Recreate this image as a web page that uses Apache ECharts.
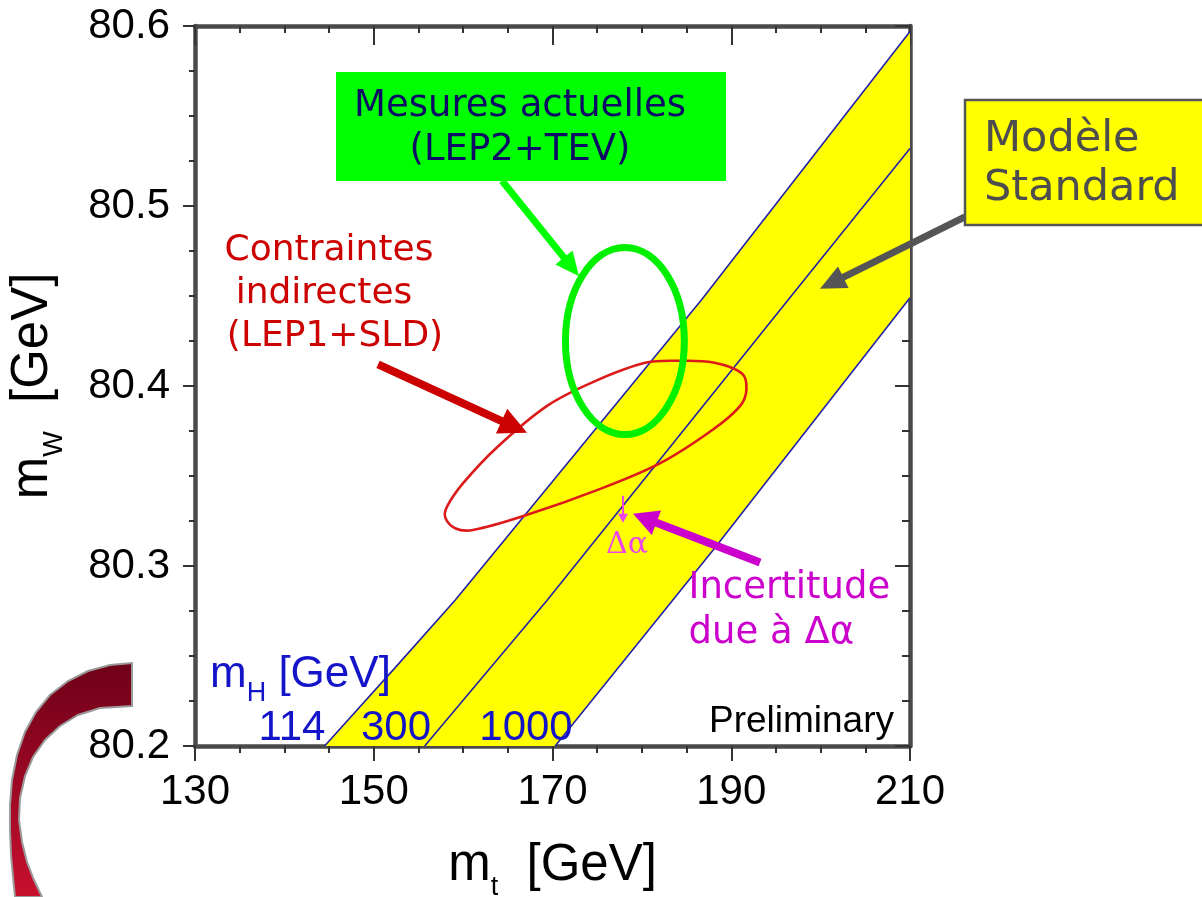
<!DOCTYPE html>
<html><head><meta charset="utf-8">
<script src="https://cdn.jsdelivr.net/npm/echarts@6/dist/echarts.min.js"></script>
<style>html,body{margin:0;padding:0;background:#fff}#c{width:1202px;height:897px}</style>
</head><body><div id="c"></div>
<script>
// ---------- data ----------
const xTickValues = [130, 150, 170, 190, 210];
const xTickLabels = ['130', '150', '170', '190', '210'];
const yTickValues = [80.2, 80.3, 80.4, 80.5, 80.6];
const yTickLabels = ['80.2', '80.3', '80.4', '80.5', '80.6'];

// Standard Model lines for m_H = 114, 300, 1000 GeV
const higgsLabels = ['114', '300', '1000'];
const mt114  = [144.5, 152.3, 159.1, 186.7, 210.0];
const mw114  = [80.200, 80.243, 80.281, 80.448, 80.597];
const mt300  = [155.7, 169.4, 196.4, 210.0];
const mw300  = [80.200, 80.281, 80.448, 80.532];
const mt1000 = [170.3, 188.0, 210.0];
const mw1000 = [80.200, 80.309, 80.449];

// indirect constraint contour (LEP1+SLD), traced
const contourMt = [174.9, 182.0, 188.0, 191.0, 191.7, 191.2, 188.0, 184.3, 180.5, 174.9, 169.4, 163.8, 160.0, 158.2, 158.0, 159.1, 161.1, 167.5];
const contourMw = [80.342, 80.357, 80.376, 80.389, 80.398, 80.407, 80.413, 80.414, 80.413, 80.403, 80.389, 80.366, 80.346, 80.333, 80.327, 80.321, 80.320, 80.329];

// direct measurement (LEP2+TEV): centre and semi-axes
const directMt = [178.1];
const directMw = [80.425];
const directSemiMt = [6.65];
const directSemiMw = [0.052];

// annotation arrows (data coordinates): green, red, grey, magenta, small delta-alpha
const arrowFromMt = [164.35, 150.48, 216.15, 193.22, 177.89];
const arrowFromMw = [80.514, 80.412, 80.494, 80.302, 80.339];
const arrowToMt   = [172.97, 167.15, 199.93, 179.01, 177.89];
const arrowToMw   = [80.461, 80.374, 80.454, 80.329, 80.324];

// ---------- styles ----------
const arrowStyles = [
  {color: '#00ff00', width: 7, head: 24, headW: 22},
  {color: '#cc0000', width: 8, head: 28, headW: 27},
  {color: '#555555', width: 7, head: 26, headW: 24},
  {color: '#cc00cc', width: 8, head: 25, headW: 26},
  {color: '#ee44ee', width: 2, head: 9, headW: 10}
];
const SANS = 'Liberation Sans';
const ANN = 'DejaVu Sans';
const axisLineStyle = {color: '#4a4a4a', width: 4.5};
const tickStyle = {color: '#333', width: 2};

const zip = (a, b) => a.map((v, i) => [v, b[i]]);
const bandPoly = zip(mt114, mw114).concat(zip(mt1000, mw1000).reverse());
const contourPts = zip(contourMt, contourMw);
const arrowData = arrowFromMt.map((v, i) => [v, arrowFromMw[i], arrowToMt[i], arrowToMw[i]]);

// decorative crescent of the slide (pixel layout)
const crescentShape = [[132,663],[110,665],[88,671],[68,681],[50,695],[36,712],[25,732],[17,755],[12,780],[10,805],[10,830],[11,855],[13,877],[15,897],
  [42,897],[34,880],[27,862],[22,842],[19,820],[20,798],[25,776],[33,757],[45,740],[60,726],[78,715],[100,708],[132,706]];

const titleRich = {
  m: {fontSize: 51, fontFamily: SANS, color: '#000', lineHeight: 70},
  sub: {fontSize: 27, fontFamily: SANS, color: '#000', lineHeight: 27, verticalAlign: 'bottom'}
};

function xAxisBase(pos) {
  return {
    type: 'value', position: pos, min: 130, max: 210, interval: 20,
    axisLine: {show: true, onZero: false, lineStyle: axisLineStyle},
    splitLine: {show: false}, minorSplitLine: {show: false}
  };
}
function yAxisBase(pos) {
  return {
    type: 'value', position: pos, min: 80.2, max: 80.6, interval: 0.1,
    axisLine: {show: true, onZero: false, lineStyle: axisLineStyle},
    splitLine: {show: false}, minorSplitLine: {show: false}
  };
}
function txt(x, y, text, font, fill, align, va) {
  va = va || 'middle';
  return {type: 'text', z: 11, silent: true, x: x, y: y,
    style: {text: text, font: font, fill: fill, align: align, verticalAlign: va, textAlign: align, textVerticalAlign: va}};
}

const chart = echarts.init(document.getElementById('c'), null, {renderer: 'canvas'});

const option = {
  backgroundColor: '#ffffff',
  animation: false,
  grid: {left: 195, top: 26, width: 715, height: 720, containLabel: false, outerBoundsMode: 'none'},
  xAxis: [
    Object.assign(xAxisBase('bottom'), {
      axisTick: {show: true, inside: false, length: 15, lineStyle: tickStyle},
      minorTick: {show: true, splitNumber: 4, length: 7, lineStyle: tickStyle},
      axisLabel: {show: true, margin: 25, fontSize: 42, fontFamily: SANS, color: '#000',
        formatter: v => { const i = xTickValues.indexOf(Math.round(v)); return i >= 0 ? xTickLabels[i] : ''; }},
      name: '{m|m}{sub|t}{m|  [GeV]}', nameLocation: 'middle', nameGap: 85,
      nameTextStyle: {rich: titleRich}
    }),
    Object.assign(xAxisBase('top'), {
      axisTick: {show: true, inside: true, length: 19, lineStyle: tickStyle},
      minorTick: {show: true, splitNumber: 4, length: 7, lineStyle: tickStyle},
      axisLabel: {show: false}
    })
  ],
  yAxis: [
    Object.assign(yAxisBase('left'), {
      axisTick: {show: true, inside: false, length: 12, lineStyle: tickStyle},
      minorTick: {show: true, splitNumber: 4, length: 6, lineStyle: tickStyle},
      axisLabel: {show: true, margin: 25, fontSize: 42, fontFamily: SANS, color: '#000',
        formatter: v => { const i = Math.round((v - 80.2) / 0.1); return yTickLabels[i] || ''; }},
      name: '{m|m}{sub|W}{m|  [GeV]}', nameLocation: 'middle', nameGap: 127,
      nameTextStyle: {rich: titleRich}
    }),
    Object.assign(yAxisBase('right'), {
      axisTick: {show: true, inside: true, length: 15, lineStyle: tickStyle},
      minorTick: {show: true, splitNumber: 4, length: 8, lineStyle: tickStyle},
      axisLabel: {show: false}
    })
  ],
  series: [
    { // yellow SM band
      type: 'custom', name: 'SM band', silent: true, z: 1,
      data: bandPoly,
      renderItem: (params, api) => {
        if (params.dataIndex !== 0) return null;
        return {type: 'polygon', shape: {points: bandPoly.map(p => api.coord(p))},
          style: {fill: '#ffff00'}};
      }
    },
    {type: 'line', name: higgsLabels[0], data: zip(mt114, mw114), showSymbol: false, silent: true, z: 2,
      lineStyle: {color: '#2222aa', width: 1.6}},
    {type: 'line', name: higgsLabels[1], data: zip(mt300, mw300), showSymbol: false, silent: true, z: 2,
      lineStyle: {color: '#2222aa', width: 1.6}},
    {type: 'line', name: higgsLabels[2], data: zip(mt1000, mw1000), showSymbol: false, silent: true, z: 2,
      lineStyle: {color: '#2222aa', width: 1.6}},
    { // red indirect contour
      type: 'custom', name: 'LEP1+SLD', silent: true, z: 3,
      data: contourPts,
      renderItem: (params, api) => {
        if (params.dataIndex !== 0) return null;
        return {type: 'polygon', shape: {points: contourPts.map(p => api.coord(p)), smooth: 0.35},
          style: {fill: 'none', stroke: '#dd1a1a', lineWidth: 2.6}};
      }
    },
    { // green direct ellipse
      type: 'custom', name: 'LEP2+TEV', silent: true, z: 4,
      data: directMt.map((v, i) => [v, directMw[i], directSemiMt[i], directSemiMw[i]]),
      renderItem: (params, api) => {
        const c = api.coord([api.value(0), api.value(1)]);
        const s = api.size([api.value(2), api.value(3)]);
        return {type: 'ellipse', shape: {cx: c[0], cy: c[1], rx: s[0], ry: s[1]},
          style: {fill: 'none', stroke: '#00f000', lineWidth: 7}};
      }
    },
    { // annotation arrows
      type: 'custom', name: 'arrows', silent: true, z: 5, clip: false,
      data: arrowData,
      renderItem: (params, api) => {
        const i = params.dataIndex;
        const st = arrowStyles[i];
        const p1 = api.coord([api.value(0), api.value(1)]);
        const p2 = api.coord([api.value(2), api.value(3)]);
        const dx = p2[0] - p1[0], dy = p2[1] - p1[1];
        const L = Math.hypot(dx, dy) || 1;
        const ux = dx / L, uy = dy / L, nx = -uy, ny = ux;
        const bx = p2[0] - ux * st.head, by = p2[1] - uy * st.head;
        return {type: 'group', children: [
          {type: 'line', shape: {x1: p1[0], y1: p1[1], x2: bx + ux * 2, y2: by + uy * 2},
            style: {stroke: st.color, lineWidth: st.width, lineCap: 'butt'}},
          {type: 'polygon', shape: {points: [[p2[0], p2[1]],
            [bx + nx * st.headW / 2, by + ny * st.headW / 2],
            [bx - nx * st.headW / 2, by - ny * st.headW / 2]]},
            style: {fill: st.color}}
        ]};
      }
    }
  ],
  graphic: [
    {type: 'polygon', z: 0, silent: true, shape: {points: crescentShape},
      style: {fill: {type: 'linear', x: 0, y: 0, x2: 0, y2: 1, colorStops: [
        {offset: 0, color: '#6e0018'}, {offset: 1, color: '#c8102e'}]},
        stroke: '#9a9a9a', lineWidth: 2}},
    {type: 'rect', z: 10, silent: true, shape: {x: 336, y: 72, width: 390, height: 109},
      style: {fill: '#00ff00'}},
    {type: 'rect', z: 10, silent: true, shape: {x: 965, y: 100, width: 260, height: 125},
      style: {fill: '#ffff00', stroke: '#555555', lineWidth: 2.5}},
    txt(520, 106.5, 'Mesures actuelles', '37px "' + ANN + '"', '#0c0c66', 'center'),
    txt(520, 150.5, '(LEP2+TEV)', '37px "' + ANN + '"', '#0c0c66', 'center'),
    txt(329, 250.5, 'Contraintes', '36px "' + ANN + '"', '#cc0000', 'center'),
    txt(324, 293.5, 'indirectes', '36px "' + ANN + '"', '#cc0000', 'center'),
    txt(335, 336.5, '(LEP1+SLD)', '36px "' + ANN + '"', '#cc0000', 'center'),
    txt(688.5, 588.5, 'Incertitude', '37px "' + ANN + '"', '#cc00cc', 'left'),
    txt(688.5, 633.5, 'due à Δα', '37px "' + ANN + '"', '#cc00cc', 'left'),
    txt(627, 545.5, 'Δα', '30px "DejaVu Serif"', '#ee44ee', 'center'),
    txt(984, 140, 'Modèle', '43px "' + ANN + '"', '#4d4d4d', 'left'),
    txt(984, 189, 'Standard', '43px "' + ANN + '"', '#4d4d4d', 'left'),
    txt(894, 721.5, 'Preliminary', '37px "' + SANS + '"', '#000', 'right'),
    txt(292, 728.5, higgsLabels[0], '42px "' + SANS + '"', '#1414c8', 'center'),
    txt(396, 728.5, higgsLabels[1], '42px "' + SANS + '"', '#1414c8', 'center'),
    txt(526, 728.5, higgsLabels[2], '42px "' + SANS + '"', '#1414c8', 'center'),
    {type: 'text', z: 11, silent: true, x: 210, y: 643, style: {text: '{m|m}{s|H}{m| [GeV]}', align: 'left', verticalAlign: 'top', textAlign: 'left', textVerticalAlign: 'top',
      rich: {m: {fontSize: 44, fontFamily: SANS, fill: '#1414c8', color: '#1414c8', lineHeight: 64},
             s: {fontSize: 27, fontFamily: SANS, fill: '#1414c8', color: '#1414c8', lineHeight: 27, verticalAlign: 'bottom'}}}}
  ]
};
chart.setOption(option);
</script>
</body></html>
